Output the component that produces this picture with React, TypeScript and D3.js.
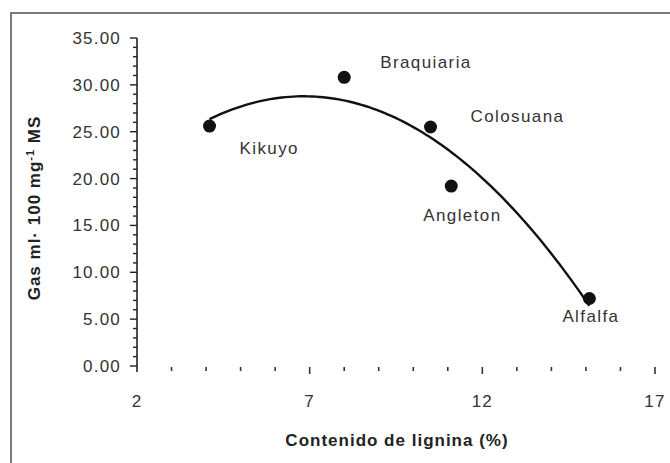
import React from "react";
import * as d3 from "d3";

const names = ["Kikuyo", "Braquiaria", "Colosuana", "Angleton", "Alfalfa"];
const lignin = [4.1, 8.0, 10.5, 11.1, 15.1];
const gas = [25.6, 30.8, 25.5, 19.2, 7.2];
const xTicks = [2, 7, 12, 17];
const yTicks = [0, 5, 10, 15, 20, 25, 30, 35];

// label placement (layout only)
const labelDx = [30, 36, 40, -28, -27];
const labelDy = [22, -15, -11, 29, 18];

function quadFit(x: number[], y: number[]) {
  const n = x.length;
  let s1 = 0, s2 = 0, s3 = 0, s4 = 0, t0 = 0, t1 = 0, t2 = 0;
  for (let i = 0; i < n; i++) {
    const a = x[i], b = y[i];
    s1 += a; s2 += a * a; s3 += a * a * a; s4 += a * a * a * a;
    t0 += b; t1 += a * b; t2 += a * a * b;
  }
  const M = [
    [n, s1, s2, t0],
    [s1, s2, s3, t1],
    [s2, s3, s4, t2],
  ];
  for (let i = 0; i < 3; i++) {
    for (let k = i + 1; k < 3; k++) {
      const f = M[k][i] / M[i][i];
      for (let j = i; j < 4; j++) M[k][j] -= f * M[i][j];
    }
  }
  const c = [0, 0, 0];
  for (let i = 2; i >= 0; i--) {
    let s = M[i][3];
    for (let j = i + 1; j < 3; j++) s -= M[i][j] * c[j];
    c[i] = s / M[i][i];
  }
  return (v: number) => c[0] + c[1] * v + c[2] * v * v;
}

export default function App() {
  const W = 670, H = 463;
  const x = d3.scaleLinear().domain([2, 17]).range([137, 655]);
  const y = d3.scaleLinear().domain([0, 35]).range([366, 38]);
  const f = quadFit(lignin, gas);
  const xmin = d3.min(lignin)!, xmax = d3.max(lignin)!;
  const curvePts = d3.range(0, 101).map((i) => {
    const v = xmin + ((xmax - xmin) * i) / 100;
    return [x(v), y(f(v))] as [number, number];
  });
  const line = d3.line().curve(d3.curveLinear)(curvePts) || "";
  const minorY = d3.range(0, 36, 1);
  const minorX = d3.range(3, 18, 1);
  const font = "'Liberation Sans', Arial, sans-serif";
  return (
    <svg width={W} height={H} style={{ position: "absolute", left: 0, top: 0, background: "#fff" }}
      fontFamily={font}>
      <rect x={0} y={0} width={W} height={H} fill="#fff" />
      <rect x={11} y={13} width={720} height={520} fill="none" stroke="#7a7a7a" strokeWidth={2} />
      {/* y axis */}
      <line x1={x(2)} x2={x(2)} y1={y(0) + 6} y2={y(35)} stroke="#222" strokeWidth={1.6} />
      {minorY.map((v) => (
        <line key={"my" + v} x1={x(2) - (v % 5 === 0 ? 7 : 4)} x2={x(2)} y1={y(v)} y2={y(v)}
          stroke="#222" strokeWidth={1.4} />
      ))}
      {yTicks.map((v) => (
        <text key={"yt" + v} x={121} y={y(v)} dy="0.35em" textAnchor="end" fontSize={17}
          letterSpacing={1.2} fill="#333">{v.toFixed(2)}</text>
      ))}
      {/* x axis ticks */}
      {minorX.map((v) => (
        <line key={"mx" + v} x1={x(v)} x2={x(v)} y1={y(0) + 1} y2={y(0) + (v % 5 === 2 ? 8 : 5)}
          stroke="#333" strokeWidth={1.6} />
      ))}
      {xTicks.map((v) => (
        <text key={"xt" + v} x={x(v)} y={401} dy="0.35em" textAnchor="middle" fontSize={17}
          letterSpacing={1.2} fill="#333">{v}</text>
      ))}
      {/* trend */}
      <path d={line} fill="none" stroke="#111" strokeWidth={2.4} />
      {/* points */}
      {lignin.map((v, i) => (
        <circle key={"p" + i} cx={x(v)} cy={y(gas[i])} r={6.5} fill="#111" />
      ))}
      {names.map((n, i) => (
        <text key={"l" + i} x={x(lignin[i]) + labelDx[i]} y={y(gas[i]) + labelDy[i]} dy="0.35em"
          fontSize={17} letterSpacing={1.4} fill="#333">{n}</text>
      ))}
      {/* titles */}
      <text x={397} y={440} dy="0.35em" textAnchor="middle" fontSize={17} fontWeight="bold"
        letterSpacing={1} fill="#222">
        Contenido de lignina (%)
      </text>
      <text transform="translate(34,208) rotate(-90)" textAnchor="middle" dy="0.35em" fontSize={17}
        fontWeight="bold" letterSpacing={1} fill="#222">
        Gas ml· 100 mg<tspan fontSize={11} dy="-6">-1</tspan><tspan dy="6"> MS</tspan>
      </text>
    </svg>
  );
}
